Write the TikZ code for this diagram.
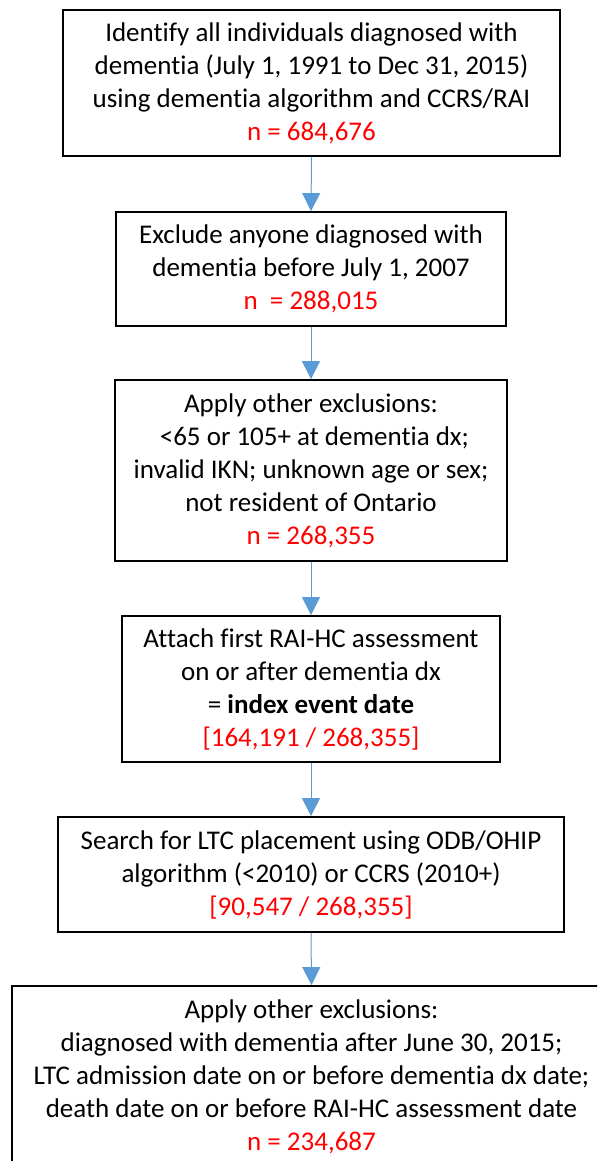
\documentclass[tikz,border=0pt]{standalone}
\usepackage{fontspec}
\setmainfont{Carlito}[Ligatures=NoCommon]
\usetikzlibrary{arrows.meta}
\definecolor{arrowblue}{RGB}{91,155,213}
\definecolor{nred}{RGB}{255,0,0}
\begin{document}
\begin{tikzpicture}[x=1pt,y=-1pt,
  box/.style={draw=black, line width=1.8pt, fill=white, align=center,
    font=\fontsize{27}{33}\selectfont, inner sep=0pt},
  flow/.style={draw=arrowblue, line width=1pt, -{Triangle[length=18pt,width=18pt]}},
  num/.style={color=nred}]
\useasboundingbox (0,0) rectangle (597,1161);
\clip (0,0) rectangle (597,1161);
\node[box, minimum width=497pt, minimum height=146pt] (b1) at (311.5,83)
  {Identify all individuals diagnosed with\\
   dementia (July 1, 1991 to Dec 31, 2015)\\
   using dementia algorithm and CCRS/RAI\\
   \textcolor{nred}{n = 684,676}};
\node[box, minimum width=390pt, minimum height=114pt] (b2) at (311,269)
  {Exclude anyone diagnosed with\\
   dementia before July 1, 2007\\
   \textcolor{nred}{n~ = 288,015}};
\node[box, minimum width=392pt, minimum height=181pt] (b3) at (311,470.5)
  {Apply other exclusions:\\
   \hspace*{0.25em}<65 or 105+ at dementia dx;\\
   invalid IKN; unknown age or sex;\\
   not resident of Ontario\\
   \textcolor{nred}{n = 268,355}};
\node[box, minimum width=378pt, minimum height=146pt] (b4) at (311,689)
  {Attach first RAI-HC assessment\\
   on or after dementia dx\\
   = \textbf{index event date}\\
   \textcolor{nred}{[164,191 / 268,355]}};
\node[box, minimum width=506pt, minimum height=115pt] (b5) at (311,874.5)
  {Search for LTC placement using ODB/OHIP\\
   algorithm (<2010) or CCRS (2010+)\\
   \textcolor{nred}{[90,547 / 268,355]}};
\node[box, minimum width=599pt, minimum height=181pt] (b6) at (311.5,1076.5)
  {Apply other exclusions:\\
   diagnosed with dementia after June 30, 2015;\\
   LTC admission date on or before dementia dx date;\\
   death date on or before RAI-HC assessment date\\
   \textcolor{nred}{n = 234,687}};
\draw[flow] (b1.south) -- (b2.north);
\draw[flow] (b2.south) -- (b3.north);
\draw[flow] (b3.south) -- (b4.north);
\draw[flow] (b4.south) -- (b5.north);
\draw[flow] (b5.south) -- (b6.north);
\end{tikzpicture}
\end{document}
